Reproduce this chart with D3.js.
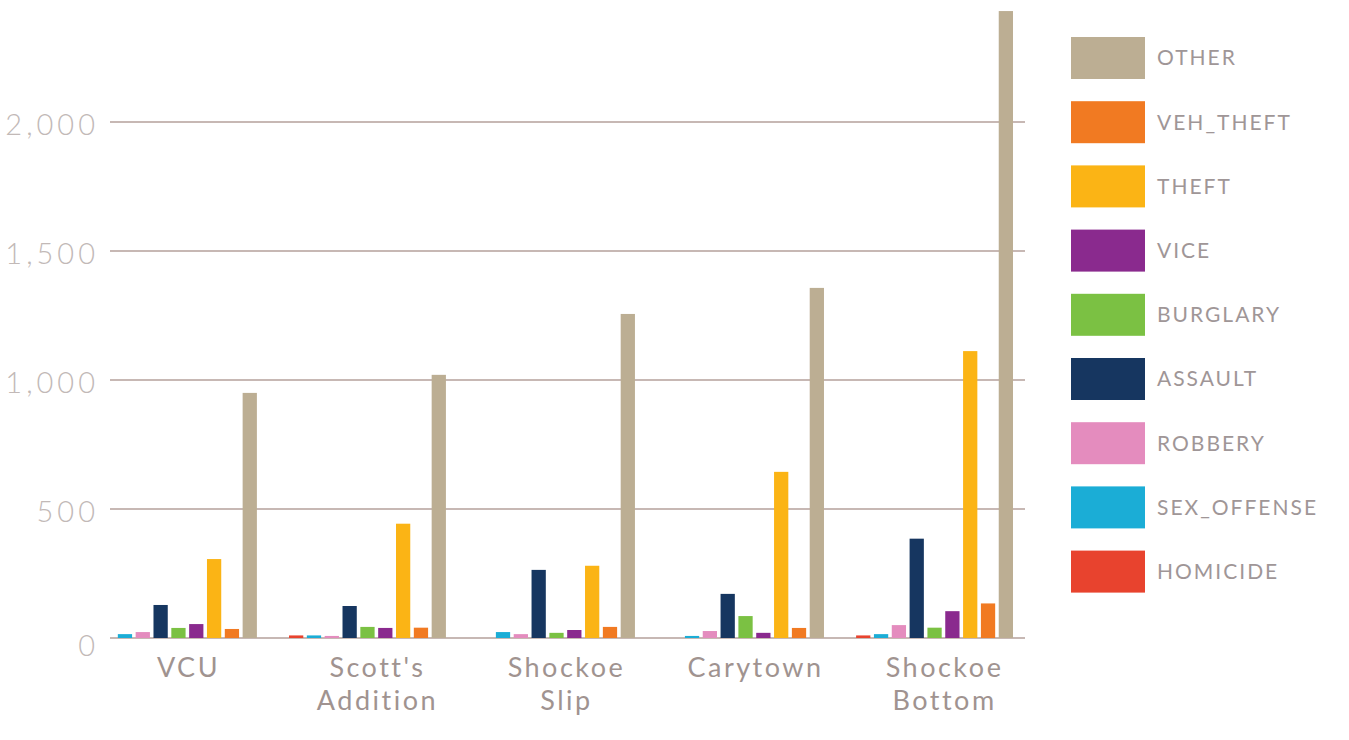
<!DOCTYPE html>
<html>
<head>
<meta charset="utf-8">
<script src="https://cdn.jsdelivr.net/npm/d3@7"></script>
<style>
  body { margin: 0; background: #fff; }
  svg { display: block; }
</style>
</head>
<body>
<svg id="chart" width="1349" height="740"></svg>
<script>
// Neighbourhoods along the x axis
var areas = ["VCU", "Scott's Addition", "Shockoe Slip", "Carytown", "Shockoe Bottom"];
var areaLines = [["VCU"], ["Scott's", "Addition"], ["Shockoe", "Slip"], ["Carytown"], ["Shockoe", "Bottom"]];

// crime types, in bar order (left to right)
var types = ["HOMICIDE", "SEX_OFFENSE", "ROBBERY", "ASSAULT", "BURGLARY", "VICE", "THEFT", "VEH_THEFT", "OTHER"];
var colors = ["#e8432e", "#1badd6", "#e48cbe", "#163660", "#7bc143", "#8a2a8e", "#fbb415", "#f17a22", "#bcae93"];

// counts per neighbourhood
var homicide   = [0, 10, 0, 0, 10];
var sexOffense = [15, 10, 23, 8, 15];
var robbery    = [23, 8, 15, 27, 50];
var assault    = [128, 124, 264, 171, 385];
var burglary   = [39, 43, 20, 85, 40];
var vice       = [54, 39, 31, 20, 104];
var theft      = [306, 443, 280, 644, 1112];
var vehTheft   = [35, 40, 43, 39, 134];
var other      = [950, 1020, 1256, 1357, 2430];

var yTicks = [0, 500, 1000, 1500, 2000];

var series = [homicide, sexOffense, robbery, assault, burglary, vice, theft, vehTheft, other];

var svg = d3.select("#chart");

var x0 = d3.scaleBand()
    .domain(areas)
    .range([100, 1013])
    .paddingInner(0.17)
    .paddingOuter(0);

var x1 = d3.scaleBand()
    .domain(types)
    .range([0, x0.bandwidth()])
    .paddingInner(0.2)
    .paddingOuter(0);

var y = d3.scaleLinear()
    .domain([0, 2000])
    .range([638, 122]);

var color = d3.scaleOrdinal().domain(types).range(colors);

// grid lines
svg.append("g")
    .selectAll("line")
    .data(yTicks)
    .enter().append("line")
    .attr("x1", 110)
    .attr("x2", 1025)
    .attr("y1", function (d) { return y(d); })
    .attr("y2", function (d) { return y(d); })
    .attr("stroke", "#c7b8b4")
    .attr("stroke-width", 2);

// y tick labels
svg.append("g")
    .selectAll("text")
    .data(yTicks)
    .enter().append("text")
    .attr("x", 99)
    .attr("y", function (d) { return y(d) + (d === 0 ? 8 : 3); })
    .attr("dy", ".35em")
    .attr("text-anchor", "end")
    .style("font-family", "Lato, sans-serif")
    .style("font-weight", 300)
    .style("font-size", "29px")
    .style("letter-spacing", "4px")
    .style("fill", "#c2b9b7")
    .text(function (d) { return d3.format(",")(d); });

// bars
var rows = areas.map(function (a, i) {
    return types.map(function (t, j) { return { area: a, type: t, value: series[j][i] }; });
});

var group = svg.append("g")
    .selectAll("g")
    .data(rows)
    .enter().append("g")
    .attr("transform", function (d, i) { return "translate(" + x0(areas[i]) + ",0)"; });

group.selectAll("rect")
    .data(function (d) { return d.filter(function (e) { return e.value > 0; }); })
    .enter().append("rect")
    .attr("x", function (d) { return x1(d.type); })
    .attr("y", function (d) { return y(d.value); })
    .attr("width", x1.bandwidth())
    .attr("height", function (d) { return y(0) - y(d.value); })
    .attr("fill", function (d) { return color(d.type); });

// category labels
var cat = svg.append("g")
    .selectAll("text")
    .data(areas)
    .enter().append("text")
    .attr("x", function (d) { return x0(d) + x0.bandwidth() / 2 + 10; })
    .attr("y", 677)
    .attr("text-anchor", "middle")
    .style("font-family", "Lato, sans-serif")
    .style("font-size", "27px")
    .style("letter-spacing", "2.5px")
    .style("fill", "#a09390");

cat.selectAll("tspan")
    .data(function (d, i) { return areaLines[i]; })
    .enter().append("tspan")
    .attr("x", function () { return d3.select(this.parentNode).attr("x"); })
    .attr("dy", function (d, i) { return i === 0 ? 0 : 33; })
    .text(function (d) { return d; });

// legend, OTHER on top
var legendTypes = types.slice().reverse();
var legend = svg.append("g")
    .selectAll("g")
    .data(legendTypes)
    .enter().append("g")
    .attr("transform", function (d, i) { return "translate(1071," + (37 + i * 64.2) + ")"; });

legend.append("rect")
    .attr("width", 74)
    .attr("height", 42)
    .attr("fill", function (d) { return color(d); });

legend.append("text")
    .attr("x", 86)
    .attr("y", 21)
    .attr("dy", ".35em")
    .style("font-family", "Lato, sans-serif")
    .style("font-size", "21px")
    .style("letter-spacing", "2px")
    .style("fill", "#9f9697")
    .text(function (d) { return d; });
</script>
</body>
</html>
